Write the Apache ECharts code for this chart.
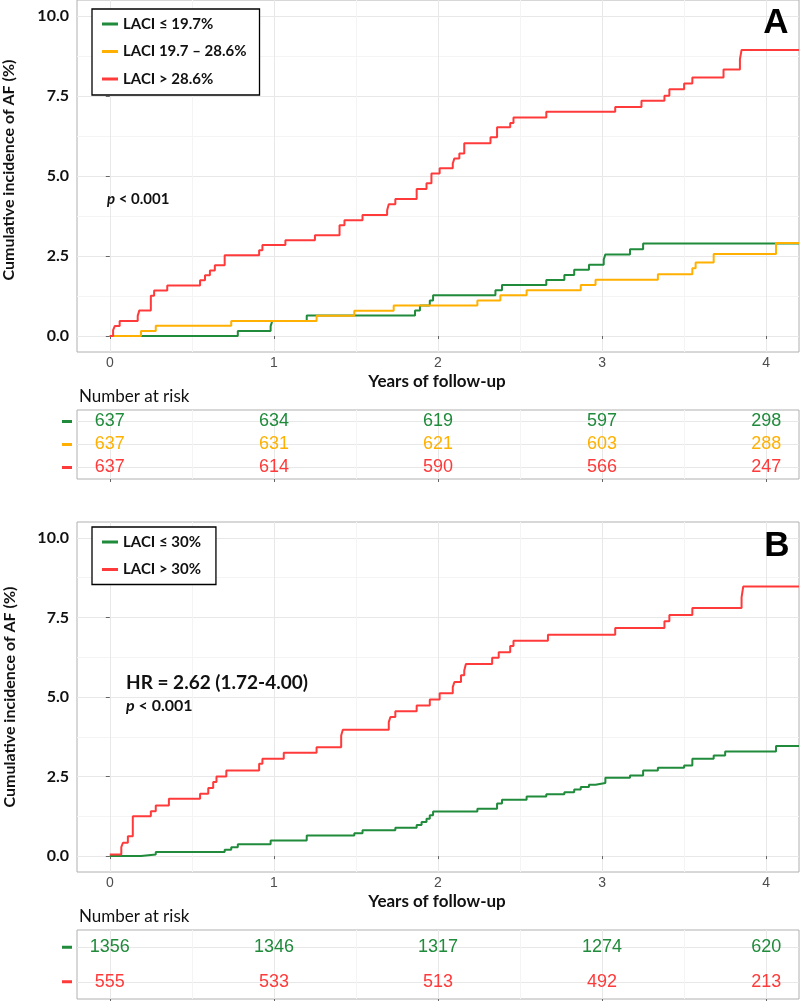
<!DOCTYPE html>
<html><head><meta charset="utf-8">
<script src="https://cdn.jsdelivr.net/npm/echarts@6/dist/echarts.min.js"></script>
<style>html,body{margin:0;padding:0;background:#fff}#c{width:800px;height:1001px}</style>
</head><body><div id="c"></div>
<script>
// ---------- data ----------
const xTicks = [0, 1, 2, 3, 4];
const xMinor = [0.5, 1.5, 2.5, 3.5];
const yTicks = [0, 2.5, 5, 7.5, 10];
const yMinor = [1.25, 3.75, 6.25, 8.75];
const namesA = ['LACI ≤ 19.7%', 'LACI 19.7 – 28.6%', 'LACI > 28.6%'];
const namesB = ['LACI ≤ 30%', 'LACI > 30%'];

// [years, cumulative incidence %]
const greenA = [[0,0],[0.78,0.16],[0.98,0.31],[0.99,0.47],[1.20,0.64],[1.86,0.80],[1.89,0.95],[1.95,1.11],[1.97,1.27],[2.35,1.43],[2.39,1.59],[2.66,1.75],[2.77,1.91],[2.83,2.07],[2.92,2.23],[3.01,2.39],[3.02,2.55],[3.17,2.71],[3.25,2.89],[4.2,2.89]];
const yellowA = [[0,0],[0.19,0.16],[0.28,0.32],[0.74,0.47],[1.26,0.63],[1.49,0.79],[1.73,0.95],[2.24,1.11],[2.38,1.27],[2.54,1.43],[2.87,1.59],[2.96,1.76],[3.34,1.93],[3.55,2.12],[3.57,2.30],[3.68,2.56],[4.06,2.91],[4.2,2.91]];
const redA = [[0,0],[0.02,0.18],[0.03,0.31],[0.06,0.47],[0.17,0.63],[0.18,0.80],[0.25,1.26],[0.27,1.42],[0.35,1.58],[0.55,1.74],[0.58,1.90],[0.61,2.05],[0.64,2.21],[0.70,2.52],[0.91,2.68],[0.93,2.84],[1.07,2.99],[1.25,3.15],[1.40,3.46],[1.43,3.62],[1.54,3.78],[1.69,3.93],[1.70,4.12],[1.74,4.28],[1.87,4.59],[1.93,4.77],[1.96,5.08],[2.01,5.24],[2.09,5.39],[2.10,5.55],[2.13,5.70],[2.16,6.02],[2.32,6.21],[2.36,6.52],[2.44,6.66],[2.46,6.83],[2.66,7.01],[3.08,7.16],[3.24,7.35],[3.38,7.51],[3.41,7.71],[3.50,7.89],[3.55,8.08],[3.74,8.33],[3.84,8.65],[3.85,8.94],[4.2,8.94]];
const greenB = [[0,0],[0.19,0.05],[0.28,0.13],[0.70,0.20],[0.74,0.28],[0.78,0.37],[0.98,0.49],[1.20,0.65],[1.49,0.72],[1.54,0.81],[1.74,0.89],[1.87,0.98],[1.90,1.07],[1.93,1.17],[1.95,1.28],[1.97,1.40],[2.24,1.49],[2.36,1.65],[2.39,1.77],[2.54,1.87],[2.66,1.94],[2.77,2.01],[2.83,2.09],[2.87,2.17],[2.92,2.24],[2.96,2.30],[3.02,2.46],[3.17,2.53],[3.25,2.69],[3.34,2.78],[3.50,2.85],[3.55,3.06],[3.68,3.16],[3.75,3.29],[4.06,3.46],[4.2,3.46]];
const redB = [[0,0.05],[0.07,0.28],[0.08,0.42],[0.11,0.62],[0.14,1.25],[0.25,1.41],[0.28,1.59],[0.36,1.80],[0.55,1.96],[0.60,2.14],[0.63,2.33],[0.65,2.50],[0.71,2.69],[0.91,2.90],[0.93,3.06],[1.06,3.25],[1.26,3.42],[1.41,3.79],[1.42,3.97],[1.70,4.21],[1.71,4.37],[1.74,4.55],[1.87,4.73],[1.95,4.92],[2.01,5.12],[2.09,5.31],[2.10,5.47],[2.14,5.68],[2.16,5.83],[2.17,6.04],[2.33,6.23],[2.37,6.41],[2.44,6.60],[2.46,6.77],[2.67,6.96],[3.08,7.17],[3.38,7.38],[3.41,7.58],[3.55,7.80],[3.85,8.13],[3.86,8.47],[4.2,8.47]];

const riskTimes = [0, 1, 2, 3, 4];
const riskGreenA = [637, 634, 619, 597, 298];
const riskYellowA = [637, 631, 621, 603, 288];
const riskRedA = [637, 614, 590, 566, 247];
const riskGreenB = [1356, 1346, 1317, 1274, 620];
const riskRedB = [555, 533, 513, 492, 213];

// ---------- styling ----------
const GREEN = '#1f8b3b', YELLOW = '#ffb000', RED = '#ff3a3a';
const MAJOR = '#e8e8e8', MINOR = '#f4f4f4', BORDER = '#b0b0b0';
const BOLD = 'Lato';
const NARROW = '"Liberation Sans Narrow", "Liberation Sans", Arial, sans-serif';

function grid(top, height) {
  return { left: 77, top: top, width: 722, height: height, show: true, borderColor: BORDER, borderWidth: 1, backgroundColor: '#fff', containLabel: false };
}
function mainX(g, labels) {
  return { type: 'value', gridIndex: g, min: -0.2, max: 4.2, position: 'bottom',
    axisLine: { show: false },
    axisTick: { show: true, customValues: xTicks, length: 3, lineStyle: { color: '#666' } },
    axisLabel: { show: labels, customValues: xTicks, formatter: v => String(v), margin: 4,
      fontFamily: NARROW, fontSize: 14, color: '#4d4d4d' },
    splitLine: { show: true, lineStyle: { color: MAJOR, width: 1 } } };
}
function minorX(g) {
  return { type: 'value', gridIndex: g, min: -0.2, max: 4.2, position: 'top',
    axisLine: { show: false }, axisTick: { show: false, customValues: xMinor },
    axisLabel: { show: false, customValues: xMinor },
    splitLine: { show: true, lineStyle: { color: MINOR, width: 1 } } };
}
function plotY(g) {
  return { type: 'value', gridIndex: g, min: -0.5, max: 10.5, position: 'left',
    axisLine: { show: false },
    axisTick: { show: true, customValues: yTicks, length: 4, lineStyle: { color: '#666' } },
    axisLabel: { customValues: yTicks, formatter: v => v.toFixed(1), margin: 8,
      fontFamily: BOLD, fontWeight: 'bold', fontSize: 16, color: '#111' },
    splitLine: { show: true, lineStyle: { color: MAJOR, width: 1 } } };
}
function minorY(g) {
  return { type: 'value', gridIndex: g, min: -0.5, max: 10.5, position: 'right',
    axisLine: { show: false }, axisTick: { show: false, customValues: yMinor },
    axisLabel: { show: false, customValues: yMinor },
    splitLine: { show: true, lineStyle: { color: MINOR, width: 1 } } };
}
function riskY(g, colors) {
  const rows = colors.map((c, i) => i + 1);
  const rich = {};
  colors.forEach((c, i) => { rich['r' + (i + 1)] = { width: 10, height: 3, backgroundColor: c, lineHeight: 3 }; });
  return { type: 'value', gridIndex: g, min: 0.5, max: colors.length + 0.5, inverse: true, position: 'left',
    axisLine: { show: false },
    axisTick: { show: false, customValues: rows },
    axisLabel: { customValues: rows, margin: 5, formatter: v => '{r' + v + '|\u00a0}', rich: rich },
    splitLine: { show: true, lineStyle: { color: MAJOR, width: 1 } } };
}
function curve(name, data, color, xi, yi) {
  return { name: name, type: 'line', step: 'end', data: data, xAxisIndex: xi, yAxisIndex: yi,
    showSymbol: false, symbol: 'none', color: color, itemStyle: { color: color },
    lineStyle: { color: color, width: 2 }, clip: true, z: 3 };
}
function riskRow(vals, row, color, xi, yi) {
  return { type: 'scatter', xAxisIndex: xi, yAxisIndex: yi, symbol: 'circle', symbolSize: 0,
    itemStyle: { color: color },
    data: riskTimes.map((t, i) => [t, row, vals[i]]),
    label: { show: true, position: 'inside', formatter: p => String(p.value[2]),
      fontFamily: NARROW, fontSize: 18, color: color, opacity: 1,
      textBorderWidth: 0, textBorderColor: 'transparent', textShadowBlur: 0 }, z: 4 };
}
function legend(names, top, pad) {
  return { data: names, orient: 'vertical', left: 92, top: top, padding: pad,
    borderColor: '#000', borderWidth: 1.3, backgroundColor: '#fff', selectedMode: false,
    icon: 'rect', itemWidth: 16, itemHeight: 3, itemGap: 9.5,
    textStyle: { fontFamily: BOLD, fontWeight: 'bold', fontSize: 15, color: '#111', lineHeight: 18, padding: [0, 0, 0, 0] } };
}
function txt(x, y, text, extra) {
  return Object.assign({ type: 'text', x: x, y: y, silent: true, z: 100,
    style: Object.assign({ text: text, fill: '#111', align: 'left', verticalAlign: 'middle',
      fontFamily: BOLD, fontSize: 15, fontWeight: 'bold' }, extra.style || {}) }, extra.el || {});
}

const option = {
  animation: false,
  backgroundColor: '#fff',
  grid: [grid(0, 352), grid(410, 69), grid(522, 350), grid(930, 69)],
  xAxis: [mainX(0, true), mainX(1, false), mainX(2, true), mainX(3, false), minorX(0), minorX(1), minorX(2), minorX(3)],
  yAxis: [plotY(0), riskY(1, [GREEN, YELLOW, RED]), plotY(2), riskY(3, [GREEN, RED]), minorY(0), minorY(2)],
  legend: [legend(namesA, 9, [6, 13, 7, 10]), legend(namesB, 527, [6, 15, 6, 10])],
  series: [
    curve(namesA[0], greenA, GREEN, 0, 0),
    curve(namesA[1], yellowA, YELLOW, 0, 0),
    curve(namesA[2], redA, RED, 0, 0),
    curve(namesB[0], greenB, GREEN, 2, 2),
    curve(namesB[1], redB, RED, 2, 2),
    riskRow(riskGreenA, 1, GREEN, 1, 1),
    riskRow(riskYellowA, 2, YELLOW, 1, 1),
    riskRow(riskRedA, 3, RED, 1, 1),
    riskRow(riskGreenB, 1, GREEN, 3, 3),
    riskRow(riskRedB, 2, RED, 3, 3)
  ],
  graphic: [
    txt(776, 23, 'A', { style: { align: 'center', fontFamily: '"Liberation Sans", Arial, sans-serif', fontSize: 35, fill: '#000' } }),
    txt(777, 546, 'B', { style: { align: 'center', fontFamily: '"Liberation Sans", Arial, sans-serif', fontSize: 35, fill: '#000' } }),
    txt(107, 199.5, '{i|p} < 0.001', { style: { rich: { i: { fontStyle: 'italic', fontFamily: BOLD, fontWeight: 'bold', fontSize: 15, fill: '#111' } } } }),
    txt(126, 683, 'HR = 2.62 (1.72-4.00)', { style: { fontSize: 19 } }),
    txt(126, 706, '{i|p} < 0.001', { style: { fontSize: 16, rich: { i: { fontStyle: 'italic', fontFamily: BOLD, fontWeight: 'bold', fontSize: 16, fill: '#111' } } } }),
    txt(9, 170, 'Cumulative incidence of AF (%)', { el: { rotation: Math.PI / 2 }, style: { align: 'center', fontSize: 16 } }),
    txt(9.5, 697, 'Cumulative incidence of AF (%)', { el: { rotation: Math.PI / 2 }, style: { align: 'center', fontSize: 16 } }),
    txt(437, 382, 'Years of follow-up', { style: { align: 'center', fontSize: 17 } }),
    txt(437, 902, 'Years of follow-up', { style: { align: 'center', fontSize: 17 } }),
    txt(79, 397, 'Number at risk', { style: { fontWeight: 'normal', fontSize: 17 } }),
    txt(79, 917, 'Number at risk', { style: { fontWeight: 'normal', fontSize: 17 } })
  ]
};
const chart = echarts.init(document.getElementById('c'), null, { renderer: 'canvas' });
chart.setOption(option);
</script></body></html>
